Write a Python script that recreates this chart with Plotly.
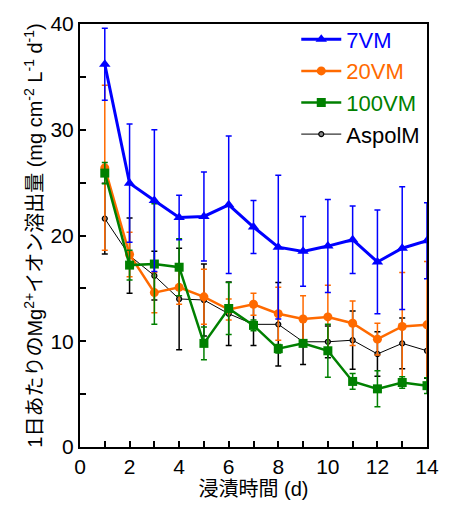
import plotly.graph_objects as go

days = list(range(1, 15))

vm7 = [36.2, 24.95, 23.3, 21.7, 21.8, 22.9, 20.8, 18.9, 18.5, 19.0, 19.6, 17.5, 18.8, 19.5]
vm7_err = [3.4, 5.6, 6.7, 2.1, 4.2, 6.5, 2.5, 6.8, 3.3, 4.4, 3.2, 4.9, 5.8, 3.6]

vm20 = [26.4, 18.2, 14.6, 15.1, 14.2, 13.0, 13.5, 12.6, 12.1, 12.3, 11.7, 10.2, 11.4, 11.55]
vm20_err = [7.8, 2.1, 1.9, 1.6, 2.6, 1.0, 1.05, 2.5, 2.2, 3.0, 2.1, 1.5, 5.1, 6.0]

vm100 = [25.9, 17.2, 17.3, 17.0, 9.8, 13.1, 11.5, 9.3, 9.8, 9.1, 6.2, 5.5, 6.1, 5.8]
vm100_err = [1.0, 1.4, 5.7, 2.7, 1.55, 2.45, 0.5, 0.4, 0.3, 2.5, 0.75, 1.7, 0.55, 0.75]

aspol = [21.6, 18.1, 16.2, 14.0, 13.9, 12.6, 11.6, 11.6, 9.95, 9.95, 10.1, 8.8, 9.8, 9.1]
aspol_err = [3.35, 3.55, 2.3, 4.8, 3.4, 3.0, 2.0, 3.95, 2.15, 1.5, 2.75, 2.1, 2.4, 2.6]

series = [
    ("AspolM", aspol, aspol_err, "#000000", "circle", 5, 1, 4),
    ("20VM", vm20, vm20_err, "#FF6A00", "circle", 9, 2.5, 2),
    ("100VM", vm100, vm100_err, "#008000", "square", 9, 2.5, 3),
    ("7VM", vm7, vm7_err, "#0000FF", "triangle-up", 10, 3, 1),
]

fig = go.Figure()
for name, ys, errs, color, sym, msize, lw, rank in series:
    if name == "AspolM":
        marker = dict(symbol=sym, size=msize, color="#888888", line=dict(color="#000000", width=1.2))
    else:
        marker = dict(symbol=sym, size=msize, color=color)
    fig.add_trace(go.Scatter(
        x=days, y=ys, mode="lines+markers",
        name=f"<span style='color:{color}'>{name}</span>",
        line=dict(color=color, width=lw),
        marker=marker,
        error_y=dict(type="data", array=errs, visible=True, color=color, thickness=1.5, width=3),
        legendrank=rank,
    ))

axis_common = dict(
    showline=True, linecolor="black", linewidth=2, mirror=True,
    ticks="inside", ticklen=6, tickwidth=2, tickcolor="black",
    showgrid=False, zeroline=False,
    tickfont=dict(size=21, color="black"),
)

fig.update_layout(
    width=451, height=511,
    margin=dict(l=80, r=14, t=13, b=64),
    paper_bgcolor="white", plot_bgcolor="white",
    font=dict(family="Liberation Sans, Arial, Noto Sans CJK JP", color="black"),
    showlegend=True,
    legend=dict(x=0.995, y=1.013, xanchor="right", yanchor="top",
                font=dict(size=22), bgcolor="rgba(0,0,0,0)", itemwidth=40,
                tracegroupgap=0),
    xaxis=dict(range=[0, 14], dtick=2, tick0=0,
               minor=dict(dtick=1, ticks="inside", ticklen=6, tickcolor="black", tickwidth=2),
               title=dict(text="浸漬時間 (d)", font=dict(size=20), standoff=0),
               **axis_common),
    yaxis=dict(range=[0, 40], dtick=10, tick0=0,
               minor=dict(dtick=5, ticks="inside", ticklen=6, tickcolor="black", tickwidth=2),
               title=dict(text="1日あたりのMg<sup>2+</sup>イオン溶出量 (mg cm<sup>-2</sup> L<sup>-1</sup> d<sup>-1</sup>)",
                          font=dict(size=20), standoff=2),
               **axis_common),
)

fig.write_html("out.html")
